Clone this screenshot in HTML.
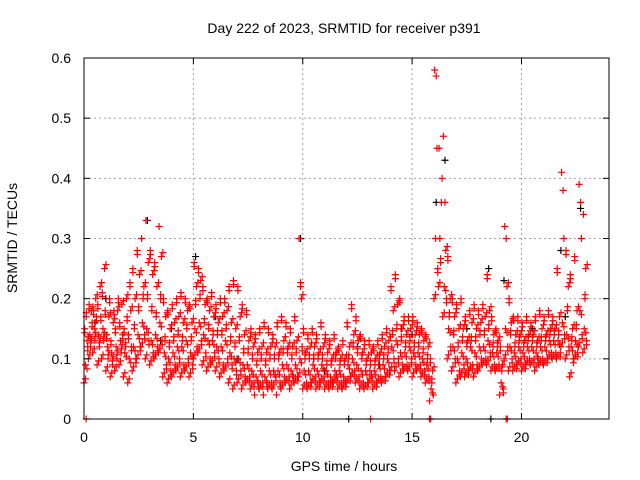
<!DOCTYPE html>
<html><head><meta charset="utf-8"><style>body{margin:0;background:#fff}svg{display:block;font-family:"Liberation Sans",sans-serif}</style></head>
<body>
<svg id="chart" width="640" height="480" viewBox="0 0 640 480">
<rect width="640" height="480" fill="#fff"/>
<g id="grid"></g>
<g id="pts"></g>
<g id="axes"></g>
<text x="344" y="33" font-size="14" text-anchor="middle">Day 222 of 2023, SRMTID for receiver p391</text>
<text x="344" y="471" font-size="14" text-anchor="middle">GPS time / hours</text>
<text transform="translate(17,238) rotate(-90)" font-size="14" text-anchor="middle">SRMTID / TECUs</text>
</svg>
<script>
const xTicks=[0,5,10,15,20];
const yTicks=[0,0.1,0.2,0.3,0.4,0.5,0.6];
const yTickLabels=["0","0.1","0.2","0.3","0.4","0.5","0.6"];
const binHours=[0,0.2,0.4,0.6,0.8,1,1.2,1.4,1.6,1.8,2,2.2,2.4,2.6,2.8,3,3.2,3.4,3.6,3.8,4,4.2,4.4,4.6,4.8,5,5.2,5.4,5.6,5.8,6,6.2,6.4,6.6,6.8,7,7.2,7.4,7.6,7.8,8,8.2,8.4,8.6,8.8,9,9.2,9.4,9.6,9.8,10,10.2,10.4,10.6,10.8,11,11.2,11.4,11.6,11.8,12,12.2,12.4,12.6,12.8,13,13.2,13.4,13.6,13.8,14,14.2,14.4,14.6,14.8,15,15.2,15.4,15.6,15.8,16,16.2,16.4,16.6,16.8,17,17.2,17.4,17.6,17.8,18,18.2,18.4,18.6,18.8,19,19.2,19.4,19.6,19.8,20,20.2,20.4,20.6,20.8,21,21.2,21.4,21.6,21.8,22,22.2,22.4,22.6,22.8];
const redValues=[
[.06,.09,.13,.15,.17,.12],[.10,.14,.18,.19,.12,.16],[.11,.15,.2,.18,.13,.17],[.09,.14,.22,.19,.12,.17],[.1,.15,.25,.21,.13,.18],
[.08,.12,.17,.14,.1,.2],[.07,.11,.16,.13,.09,.18],[.08,.12,.18,.15,.1,.2],[.09,.13,.19,.16,.11,.14],[.07,.11,.2,.15,.12,.17],
[.06,.1,.18,.14,.22,.12],[.08,.12,.2,.25,.15,.1],[.1,.14,.24,.28,.18,.12],[.12,.16,.22,.3,.2,.14],[.1,.15,.26,.33,.2,.13],
[.09,.13,.24,.28,.18,.11],[.1,.14,.22,.26,.17,.12],[.11,.16,.27,.32,.2,.13],[.07,.11,.17,.2,.13,.09],[.06,.1,.15,.18,.12,.08],
[.07,.11,.16,.19,.13,.09],[.08,.12,.17,.2,.14,.1],[.07,.12,.16,.21,.13,.09],[.08,.13,.18,.2,.15,.1],[.07,.11,.16,.19,.13,.09],
[.1,.15,.22,.26,.19,.12],[.11,.16,.23,.25,.2,.13],[.09,.14,.19,.22,.16,.11],[.08,.13,.18,.2,.15,.1],[.09,.13,.17,.21,.14,.11],
[.08,.12,.16,.19,.14,.1],[.07,.12,.17,.2,.14,.09],[.08,.13,.18,.2,.15,.1],[.06,.11,.16,.22,.13,.09],[.05,.1,.15,.23,.12,.08],
[.06,.1,.17,.22,.13,.08],[.05,.09,.14,.19,.11,.07],[.06,.09,.13,.18,.11,.07],[.05,.08,.12,.15,.1,.06],[.04,.07,.11,.14,.09,.06],
[.05,.08,.12,.15,.1,.06],[.04,.07,.11,.16,.09,.06],[.05,.08,.12,.15,.1,.06],[.05,.08,.12,.14,.1,.07],[.04,.08,.11,.16,.1,.06],
[.05,.09,.13,.17,.11,.07],[.06,.09,.12,.16,.11,.07],[.05,.08,.12,.15,.1,.07],[.06,.09,.13,.17,.11,.07],[.07,.1,.2,.3,.22,.12],
[.05,.08,.11,.15,.1,.06],[.05,.08,.12,.14,.1,.06],[.06,.09,.12,.15,.1,.07],[.05,.08,.11,.14,.1,.06],[.06,.09,.12,.16,.1,.07],
[.05,.08,.11,.14,.09,.06],[.05,.07,.1,.13,.09,.06],[.06,.08,.11,.14,.1,.07],[.05,.08,.1,.12,.09,.06],[.05,.07,.1,.13,.09,.06],
[.06,.09,.12,.16,.1,.07],[.07,.1,.14,.19,.12,.08],[.06,.09,.13,.17,.11,.07],[.05,.08,.11,.14,.1,.06],[.05,.08,.1,.13,.09,.06],
[.06,.08,.11,.13,.09,.07],[.05,.08,.1,.12,.09,.06],[.06,.09,.11,.13,.1,.07],[.06,.09,.12,.14,.1,.07],[.07,.1,.13,.15,.11,.08],
[.08,.12,.18,.22,.14,.1],[.08,.13,.19,.24,.15,.1],[.07,.11,.15,.2,.13,.09],[.08,.11,.14,.17,.12,.09],[.08,.12,.15,.17,.13,.1],
[.07,.11,.14,.17,.12,.09],[.08,.11,.14,.16,.12,.09],[.07,.1,.13,.15,.11,.08],[.06,.09,.12,.14,.1,.07],[.03,.05,.08,.1,.06,.04],
[.2,.3,.45,.58,.57,.25],[.22,.3,.36,.45,.26,.4],[.17,.22,.28,.47,.36,.2],[.1,.15,.2,.27,.17,.12],[.08,.12,.17,.2,.14,.1],
[.06,.1,.15,.19,.12,.08],[.07,.11,.15,.2,.13,.09],[.07,.1,.13,.17,.12,.08],[.08,.12,.16,.18,.13,.09],[.07,.11,.15,.19,.13,.09],
[.08,.12,.16,.18,.14,.1],[.09,.12,.17,.19,.14,.1],[.09,.13,.18,.24,.15,.11],[.08,.11,.14,.17,.12,.09],[.08,.11,.13,.15,.12,.09],
[.04,.06,.09,.12,.08,.05],[.1,.15,.22,.32,.3,.12],[.08,.12,.16,.2,.14,.1],[.08,.11,.14,.17,.12,.09],[.09,.12,.14,.17,.13,.1],
[.08,.11,.13,.16,.12,.09],[.09,.12,.14,.17,.13,.1],[.09,.12,.14,.16,.13,.1],[.08,.11,.13,.17,.12,.1],[.09,.12,.15,.18,.13,.1],
[.09,.12,.14,.17,.13,.1],[.1,.13,.15,.18,.14,.11],[.1,.13,.15,.17,.14,.11],[.1,.13,.17,.25,.14,.11],[.12,.16,.3,.41,.38,.14],
[.1,.14,.22,.28,.18,.12],[.07,.12,.15,.24,.13,.1],[.1,.13,.18,.27,.15,.11],[.12,.18,.3,.39,.36,.14],[.11,.15,.25,.34,.2,.13]];
const redZeroHours=[0.1,13.1,15.8,15.85,19.3,19.35];
const blackHours=[0.5,1,2.9,3.5,4,5.1,6,7,8,9.9,10.5,11,12.5,13.5,14.5,15,16.1,16.5,17.5,18.5,19.2,20.5,21.8,22,22.7,12.1,18.6];
const blackValues=[.16,.2,.33,.13,.15,.27,.17,.1,.05,.3,.1,.08,.12,.09,.15,.14,.36,.43,.15,.25,.23,.15,.28,.17,.35,0,0];

const X0=84,X1=609,Y0=419,Y1=58;
const xs=t=>X0+(t/24)*(X1-X0);
const ys=v=>Y0-(v/0.6)*(Y0-Y1);
const NS="http://www.w3.org/2000/svg";
function mk(tag,attrs,parent){const e=document.createElementNS(NS,tag);for(const k in attrs)e.setAttribute(k,attrs[k]);parent.appendChild(e);return e;}
const grid=document.getElementById('grid'),axes=document.getElementById('axes'),pts=document.getElementById('pts');
xTicks.forEach(t=>{
 const x=xs(t);
 if(t>0){const g=mk('line',{x1:x,x2:x,y1:Y1,y2:Y0,stroke:'#a0a0a0','stroke-dasharray':'2,3'},grid);
 
 }
 mk('line',{x1:x,x2:x,y1:Y0,y2:Y0-6,stroke:'#000'},axes);
 mk('line',{x1:x,x2:x,y1:Y1,y2:Y1+6,stroke:'#000'},axes);
 const l=mk('text',{x:x,y:Y0+23,'font-size':14,'text-anchor':'middle'},axes);l.textContent=t;
 
 
});
yTicks.forEach((v,i)=>{
 const y=ys(v);
 if(v>0&&v<0.6){const g=mk('line',{x1:X0,x2:X1,y1:y,y2:y,stroke:'#a0a0a0','stroke-dasharray':'2,3'},grid);
 
 }
 mk('line',{x1:X0,x2:X0+6,y1:y,y2:y,stroke:'#000'},axes);
 mk('line',{x1:X1,x2:X1-6,y1:y,y2:y,stroke:'#000'},axes);
 const l=mk('text',{x:X0-13,y:y+5,'font-size':14,'text-anchor':'end'},axes);l.textContent=yTickLabels[i];
 
 
});
const frame=mk('rect',{x:X0,y:Y1,width:X1-X0,height:Y0-Y1,fill:'none',stroke:'#000'},axes);


function plus(t,v,col,dx,dy){
 const x=xs(t)+dx,y=ys(v)+dy;
 const p=mk('path',{d:`M${x-3.5},${y}h7M${x},${y-3.5}v7`,stroke:col,'stroke-width':1.2,fill:'none'},pts);
 
 
}
blackHours.forEach((t,i)=>plus(t,blackValues[i],'#000',0,0));
const offs=[0,1.5,3,0.7,2.2,3.7];
binHours.forEach((t,i)=>redValues[i].forEach((v,j)=>{plus(t,v,'#f00',offs[j],0);if(v>0.04&&v<0.3)plus(t,v,'#f00',offs[(j+3)%6]+0.8,(j%2?4:-4));}));
redZeroHours.forEach(t=>plus(t,0,'#f00',0,0));
</script>
</body></html>
